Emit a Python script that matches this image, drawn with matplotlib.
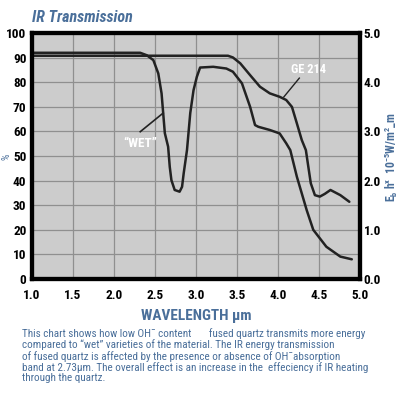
import matplotlib
matplotlib.use("Agg")
import matplotlib.pyplot as plt

# Data
wet_wl = [1.0, 2.32, 2.40, 2.48, 2.54, 2.58, 2.60, 2.62, 2.66, 2.68, 2.70, 2.74, 2.80, 2.83, 2.85,
          2.89, 2.93, 2.97, 3.01, 3.05, 3.21, 3.37, 3.45, 3.56, 3.66, 3.72, 3.76, 3.90, 4.02,
          4.10, 4.15, 4.23, 4.35, 4.43, 4.59, 4.76, 4.90]
wet_t = [92.0, 92.0, 91.0, 89.0, 83.6, 75.5, 67.4, 59.3, 53.8, 45.6, 40.2, 36.2, 35.5, 37.5, 43.0,
         52.4, 67.5, 76.8, 82.2, 86.0, 86.3, 85.6, 84.3, 79.6, 70.0, 62.6, 61.9, 60.6, 59.2,
         55.2, 52.4, 41.6, 28.0, 20.0, 13.1, 9.1, 8.0]

ge_wl = [1.0, 3.39, 3.45, 3.54, 3.66, 3.78, 3.90, 4.02, 4.10, 4.17, 4.23, 4.29, 4.34, 4.37, 4.40,
         4.45, 4.51, 4.57, 4.64, 4.76, 4.87]
ge_t = [90.8, 90.8, 90.1, 87.7, 82.9, 78.2, 75.5, 74.1, 72.8, 70.0, 63.3, 56.5, 52.4, 45.6, 38.9,
        34.1, 33.5, 34.6, 36.2, 34.1, 31.4]

x_ticks = [1.0, 1.5, 2.0, 2.5, 3.0, 3.5, 4.0, 4.5, 5.0]
y_ticks = [0, 10, 20, 30, 40, 50, 60, 70, 80, 90, 100]
y2_ticks = [0.0, 1.0, 2.0, 3.0, 4.0, 5.0]

BLUE = "#4a6f9a"
FONT = ["Roboto Condensed", "DejaVu Sans"]
plt.rcParams['font.family'] = FONT
plt.rcParams['mathtext.fontset'] = 'custom'
plt.rcParams['mathtext.rm'] = 'Roboto Condensed:bold'
plt.rcParams['mathtext.bf'] = 'Roboto Condensed:bold'

fig = plt.figure(figsize=(4.0, 3.99), dpi=100)
ax = fig.add_axes([0.08, 0.3008, 0.82, 0.6162])
ax.set_facecolor("#cccccc")

ax.plot(wet_wl, wet_t, color="#222222", lw=1.8, solid_capstyle="round")
ax.plot(ge_wl, ge_t, color="#222222", lw=1.8, solid_capstyle="round")

ax.set_xlim(1.0, 5.0)
ax.set_ylim(0, 100)
ax.set_xticks(x_ticks)
ax.set_xticklabels([f"{v:.1f}" for v in x_ticks])
ax.set_yticks(y_ticks)
ax.set_yticklabels([str(v) for v in y_ticks])
ax.grid(True, color="#8f8f8f", lw=0.9)
ax.set_axisbelow(True)
ax.tick_params(axis="y", length=0, labelsize=9.5, pad=4)
ax.tick_params(axis="x", length=0, labelsize=9.5, pad=7)
for lab in ax.get_xticklabels() + ax.get_yticklabels():
    lab.set_fontweight("bold")
for s in ax.spines.values():
    s.set_linewidth(3)
    s.set_color("black")

ax2 = ax.twinx()
ax2.set_ylim(0, 5)
ax2.set_yticks(y2_ticks)
ax2.set_yticklabels([f"{v:.1f}" for v in y2_ticks])
ax2.tick_params(length=0, labelsize=9.5, pad=2.5)
for lab in ax2.get_yticklabels():
    lab.set_fontweight("bold")
for s in ax2.spines.values():
    s.set_linewidth(3)

fig.text(0.979, 0.607,
         r"E$_\mathregular{b}$ h$^\mathregular{x}$  10$^\mathregular{-5}$W/m$^\mathregular{2}$_m",
         color=BLUE, fontsize=8.5, fontweight="bold", rotation=90, ha="center", va="center")

# annotations
ax.text(2.32, 55, "\u201cWET\u201d", color="white", fontsize=9.5, fontweight="bold",
        ha="center", va="center")
ax.plot([2.32, 2.60], [59.9, 67.5], color="#222222", lw=1.2)
ax.text(4.37, 85, "GE 214", color="white", fontsize=9, fontweight="bold",
        ha="center", va="center")
ax.plot([4.26, 4.07], [81.7, 74.0], color="#222222", lw=1.0)

fig.text(0.08, 0.957, "IR Transmission", color=BLUE, fontsize=11.5, fontweight="bold",
         fontstyle="italic", ha="left", va="center")
fig.text(0.0175, 0.607, "%", color=BLUE, fontsize=7.5, rotation=90, ha="center", va="center")
fig.text(0.49, 0.208, "WAVELENGTH \u00b5m", color=BLUE, fontsize=11, fontweight="bold",
         ha="center", va="center")

para = ("This chart shows how low OH\u00af content       fused quartz transmits more energy\n"
        "compared to \u201cwet\u201d varieties of the material. The IR energy transmission\n"
        "of fused quartz is affected by the presence or absence of OH\u00afabsorption\n"
        "band at 2.73\u00b5m. The overall effect is an increase in the  effeciency if IR heating\n"
        "through the quartz.")
fig.text(0.055, 0.178, para, color=BLUE, fontsize=8.0, ha="left", va="top", linespacing=1.05)

fig.savefig("out.png", dpi=100, facecolor="white")
